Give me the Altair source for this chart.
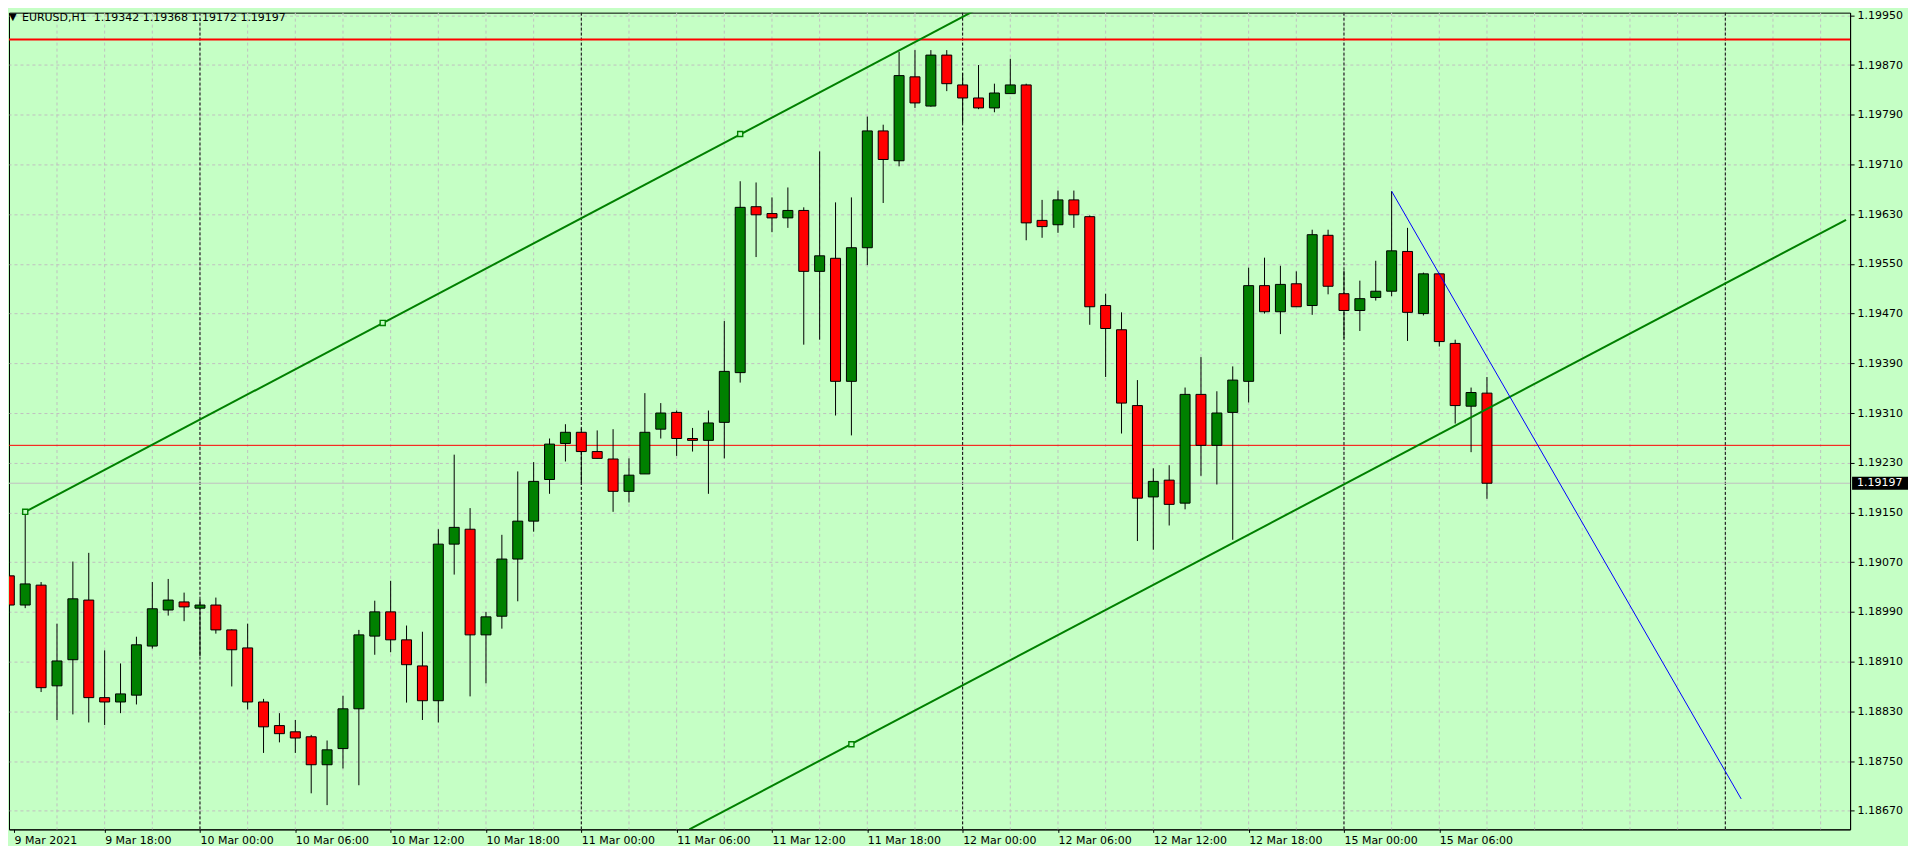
import json
import altair as alt
import pandas as pd

# ---------------- data ----------------
symbol_text = "EURUSD,H1"
ohlc_text = "1.19342 1.19368 1.19172 1.19197"

opens = [
    1.19048, 1.19001, 1.19033, 1.18871, 1.18913, 1.19009, 1.18852, 1.18845, 1.18856, 1.18935,
    1.18993, 1.19006, 1.18996, 1.19001, 1.18961, 1.18932, 1.18845, 1.18807, 1.18797, 1.18789,
    1.18744, 1.18770, 1.18834, 1.18951, 1.18990, 1.18945, 1.18903, 1.18847, 1.19099, 1.19123,
    1.18953, 1.18983, 1.19075, 1.19136, 1.19203, 1.19261, 1.19279, 1.19248, 1.19236, 1.19184,
    1.19212, 1.19284, 1.19311, 1.19269, 1.19266, 1.19295, 1.19375, 1.19642, 1.19631, 1.19624,
    1.19636, 1.19538, 1.19559, 1.19361, 1.19576, 1.19764, 1.19716, 1.19851, 1.19804, 1.19886,
    1.19838, 1.19817, 1.19801, 1.19824, 1.19838, 1.19620, 1.19613, 1.19653, 1.19626, 1.19483,
    1.19444, 1.19322, 1.19175, 1.19202, 1.19165, 1.19340, 1.19258, 1.19311, 1.19361, 1.19515,
    1.19473, 1.19518, 1.19483, 1.19596, 1.19502, 1.19475, 1.19496, 1.19506, 1.19570, 1.19470,
    1.19534, 1.19422, 1.19321, 1.19342]

highs = [
    1.19091, 1.19151, 1.19038, 1.18971, 1.19071, 1.19085, 1.18928, 1.18907, 1.18950, 1.19038,
    1.19043, 1.19021, 1.19010, 1.19013, 1.18962, 1.18971, 1.18850, 1.18827, 1.18816, 1.18792,
    1.18783, 1.18855, 1.18961, 1.19008, 1.19040, 1.18968, 1.18958, 1.19123, 1.19243, 1.19157,
    1.18990, 1.19114, 1.19216, 1.19231, 1.19269, 1.19292, 1.19285, 1.19282, 1.19284, 1.19237,
    1.19342, 1.19326, 1.19314, 1.19286, 1.19314, 1.19458, 1.19683, 1.19681, 1.19657, 1.19673,
    1.19641, 1.19731, 1.19649, 1.19657, 1.19787, 1.19774, 1.19891, 1.19894, 1.19894, 1.19894,
    1.19857, 1.19870, 1.19840, 1.19880, 1.19840, 1.19653, 1.19668, 1.19668, 1.19628, 1.19502,
    1.19472, 1.19363, 1.19221, 1.19226, 1.19351, 1.19400, 1.19345, 1.19385, 1.19544, 1.19560,
    1.19547, 1.19538, 1.19605, 1.19605, 1.19539, 1.19523, 1.19555, 1.19667, 1.19608, 1.19536,
    1.19535, 1.19428, 1.19351, 1.19368]

lows = [
    1.18968, 1.18996, 1.18861, 1.18816, 1.18825, 1.18812, 1.18808, 1.18827, 1.18841, 1.18931,
    1.18984, 1.18975, 1.18919, 1.18955, 1.18870, 1.18833, 1.18763, 1.18780, 1.18763, 1.18698,
    1.18679, 1.18738, 1.18711, 1.18921, 1.18925, 1.18844, 1.18816, 1.18812, 1.19050, 1.18854,
    1.18875, 1.18963, 1.19007, 1.19119, 1.19180, 1.19232, 1.19195, 1.19237, 1.19151, 1.19166,
    1.19212, 1.19269, 1.19241, 1.19248, 1.19180, 1.19237, 1.19359, 1.19561, 1.19601, 1.19608,
    1.19420, 1.19428, 1.19306, 1.19274, 1.19548, 1.19648, 1.19707, 1.19801, 1.19803, 1.19828,
    1.19777, 1.19799, 1.19794, 1.19824, 1.19588, 1.19592, 1.19600, 1.19608, 1.19452, 1.19368,
    1.19277, 1.19104, 1.19090, 1.19129, 1.19155, 1.19209, 1.19195, 1.19106, 1.19327, 1.19470,
    1.19437, 1.19481, 1.19468, 1.19501, 1.19430, 1.19442, 1.19491, 1.19498, 1.19426, 1.19467,
    1.19417, 1.19293, 1.19247, 1.19172]

closes = [
    1.19001, 1.19035, 1.18868, 1.18911, 1.19011, 1.18852, 1.18845, 1.18858, 1.18937, 1.18995,
    1.19009, 1.18998, 1.19001, 1.18961, 1.18929, 1.18845, 1.18805, 1.18794, 1.18787, 1.18744,
    1.18768, 1.18834, 1.18953, 1.18990, 1.18945, 1.18905, 1.18847, 1.19099, 1.19126, 1.18953,
    1.18982, 1.19075, 1.19136, 1.19200, 1.19260, 1.19279, 1.19248, 1.19237, 1.19184, 1.19210,
    1.19279, 1.19310, 1.19269, 1.19266, 1.19294, 1.19377, 1.19641, 1.19629, 1.19624, 1.19636,
    1.19538, 1.19563, 1.19361, 1.19576, 1.19764, 1.19718, 1.19853, 1.19809, 1.19886, 1.19840,
    1.19817, 1.19801, 1.19825, 1.19838, 1.19616, 1.19610, 1.19653, 1.19629, 1.19481, 1.19446,
    1.19326, 1.19173, 1.19200, 1.19163, 1.19340, 1.19258, 1.19310, 1.19363, 1.19515, 1.19473,
    1.19517, 1.19481, 1.19597, 1.19514, 1.19475, 1.19494, 1.19506, 1.19571, 1.19472, 1.19534,
    1.19425, 1.19322, 1.19343, 1.19197]

# time axis (bar index based, like MT4)
x_label_idx = [0.3, 6, 12, 18, 24, 30, 36, 42, 48, 54, 60, 66, 72, 78, 84, 90]
x_labels = ["9 Mar 2021", "9 Mar 18:00", "10 Mar 00:00", "10 Mar 06:00", "10 Mar 12:00",
            "10 Mar 18:00", "11 Mar 00:00", "11 Mar 06:00", "11 Mar 12:00", "11 Mar 18:00",
            "12 Mar 00:00", "12 Mar 06:00", "12 Mar 12:00", "12 Mar 18:00", "15 Mar 00:00",
            "15 Mar 06:00"]
grid_idx = [3, 6, 9, 12, 15, 18, 21, 24, 27, 30, 33, 36, 39, 42, 45, 48, 51, 54, 57, 60,
            63, 66, 69, 72, 75, 78, 81, 84, 87, 90, 93, 96, 99, 102, 105, 108, 111, 114]
day_start_idx = [12, 36, 60, 84, 108]

y_ticks = [1.18670, 1.18750, 1.18830, 1.18910, 1.18990, 1.19070, 1.19150, 1.19230, 1.19310,
           1.19390, 1.19470, 1.19550, 1.19630, 1.19710, 1.19790, 1.19870, 1.19950]

# drawn objects
upper_idx = [1, 63]
upper_price = [1.19151, 1.19988]
lower_idx = [42.8, 115.6]
lower_price = [1.18640, 1.19621]
anchor_idx = [1, 23.5, 46, 53]
anchor_price = [1.19151, 1.19455, 1.19759, 1.18777]
blue_idx = [87, 109]
blue_price = [1.19667, 1.18689]
red_level = 1.19911
red_thin_level = 1.19258
bid_level = 1.19197
bid_text = "1.19197"

# ---------------- chart ----------------
BG = "#C5FFC5"
FONT = "DejaVu Sans"

n = len(opens)
candles = pd.DataFrame({
    "idx": list(range(n)), "open": opens, "high": highs, "low": lows, "close": closes,
})
candles["dir"] = ["up" if c >= o else "down" for o, c in zip(opens, closes)]

xs = alt.Scale(domain=[0.294, 115.54], nice=False, zero=False)
ys = alt.Scale(domain=[1.18640, 1.199543], nice=False, zero=False)

label_expr = json.dumps(x_labels) + "[round(datum.value / 6)]"

x_axis = alt.Axis(values=x_label_idx, labelExpr=label_expr, grid=False, tickSize=3,
                  tickColor="black", domainColor="black", labelAlign="left",
                  labelBaseline="top", labelPadding=2, labelFont=FONT, labelFontSize=11,
                  labelColor="black", labelFlush=False, labelOverlap=False, title=None)
y_axis = alt.Axis(orient="right", values=y_ticks, format=".5f", grid=True,
                  gridColor="#C0C0C0", gridDash=[3, 3], gridWidth=1, tickSize=4,
                  tickColor="black", domainColor="black", labelPadding=3, labelFont=FONT,
                  labelFontSize=11, labelColor="black", labelFlush=False,
                  labelOverlap=False, title=None)


def X(field):
    return alt.X(field, scale=xs, axis=x_axis)


def Y(field):
    return alt.Y(field, scale=ys, axis=y_axis)


vgrid = alt.Chart(pd.DataFrame({"idx": grid_idx})).mark_rule(
    color="#C0C0C0", strokeDash=[3, 3], strokeWidth=1
).encode(x=X("idx:Q"))

day_sep = alt.Chart(pd.DataFrame({"idx": day_start_idx})).mark_rule(
    color="black", strokeDash=[3, 2], strokeWidth=1
).encode(x=X("idx:Q"))

bid_line = alt.Chart(pd.DataFrame({"price": [bid_level]})).mark_rule(
    color="#C0C0C0", strokeWidth=1
).encode(y=Y("price:Q"))

red_thin = alt.Chart(pd.DataFrame({"price": [red_thin_level]})).mark_rule(
    color="#FF0000", strokeWidth=1
).encode(y=Y("price:Q"))

red_thick = alt.Chart(pd.DataFrame({"price": [red_level]})).mark_rule(
    color="#FF0000", strokeWidth=2
).encode(y=Y("price:Q"))

wicks = alt.Chart(candles).mark_rule(color="black", strokeWidth=1, clip=True).encode(
    x=X("idx:Q"), y=Y("low:Q"), y2="high:Q",
)

bodies = alt.Chart(candles).mark_bar(
    size=10, stroke="black", strokeWidth=1, clip=True, orient="vertical"
).encode(
    x=X("idx:Q"), y=Y("open:Q"), y2="close:Q",
    color=alt.Color("dir:N", scale=alt.Scale(domain=["up", "down"],
                                             range=["#008000", "#FF0000"]), legend=None),
)

upper = alt.Chart(pd.DataFrame({"idx": upper_idx, "price": upper_price})).mark_line(
    color="#008000", strokeWidth=2, clip=True
).encode(x=X("idx:Q"), y=Y("price:Q"))

lower = alt.Chart(pd.DataFrame({"idx": lower_idx, "price": lower_price})).mark_line(
    color="#008000", strokeWidth=2, clip=True
).encode(x=X("idx:Q"), y=Y("price:Q"))

anchors = alt.Chart(pd.DataFrame({"idx": anchor_idx, "price": anchor_price})).mark_point(
    shape="square", size=26, filled=True, fill=BG, stroke="#008000", strokeWidth=1.4,
    opacity=1, clip=True
).encode(x=X("idx:Q"), y=Y("price:Q"))

blue = alt.Chart(pd.DataFrame({"idx": blue_idx, "price": blue_price})).mark_line(
    color="#0000FF", strokeWidth=1, clip=True
).encode(x=X("idx:Q"), y=Y("price:Q"))

tri = alt.Chart(pd.DataFrame({"t": ["\u25BC"]})).mark_text(
    align="left", baseline="middle", font=FONT, fontSize=10, color="black"
).encode(x=alt.value(0), y=alt.value(4), text="t:N")

title_sym = alt.Chart(pd.DataFrame({"t": [symbol_text]})).mark_text(
    align="left", baseline="middle", font=FONT, fontSize=11, color="black"
).encode(x=alt.value(13), y=alt.value(5), text="t:N")

title_ohlc = alt.Chart(pd.DataFrame({"t": [ohlc_text]})).mark_text(
    align="left", baseline="middle", font=FONT, fontSize=11, color="black"
).encode(x=alt.value(85), y=alt.value(5), text="t:N")

bid_df = pd.DataFrame({"price": [bid_level], "t": [bid_text]})
bid_box = alt.Chart(bid_df).mark_rect(color="black", yOffset=-6.5, y2Offset=6.5).encode(
    x=alt.value(1846), x2=alt.value(1902), y=Y("price:Q"), y2="price:Q",
)
bid_label = alt.Chart(bid_df).mark_text(
    align="left", baseline="middle", font=FONT, fontSize=11, color="white"
).encode(x=alt.value(1851), y=Y("price:Q"), text="t:N")

chart = alt.layer(
    vgrid, day_sep, bid_line, red_thin, wicks, bodies, red_thick,
    upper, lower, anchors, blue, tri, title_sym, title_ohlc, bid_box, bid_label
).properties(
    width=1844, height=818, padding=0, background=BG
).configure_view(stroke="black", strokeWidth=1, fill=BG)

chart.save("out.html", embed_options={"renderer": "svg", "actions": False})
